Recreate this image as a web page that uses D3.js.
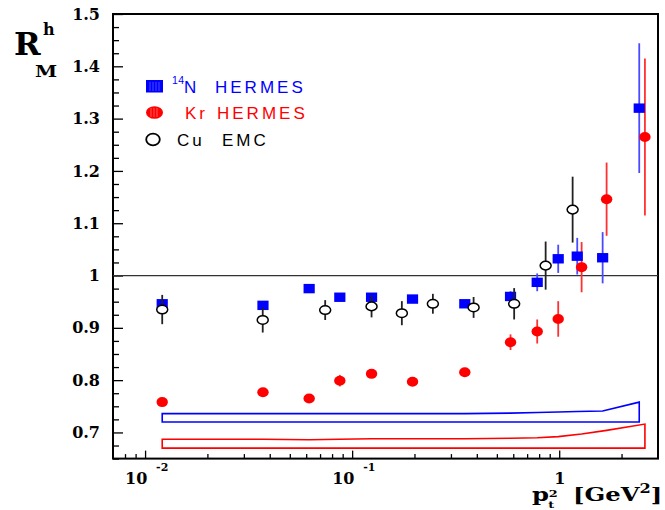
<!DOCTYPE html>
<html>
<head>
<meta charset="utf-8">
<script src="https://cdn.jsdelivr.net/npm/d3@7"></script>
<style>
  html, body { margin: 0; padding: 0; background: #fff; }
  svg { display: block; }
</style>
</head>
<body>
<svg id="chart" width="665" height="510"></svg>
<script>
// ---------------- data ----------------
const nX   = [0.0121, 0.0371, 0.0620, 0.0872, 0.1241, 0.1957, 0.350, 0.582, 0.783, 0.989, 1.222, 1.621, 2.435];
const nY   = [0.946, 0.943, 0.975, 0.9585, 0.9585, 0.955, 0.946, 0.960, 0.987, 1.032, 1.037, 1.034, 1.320];
const nErr = [0.004, 0.004, 0.004, 0.005, 0.005, 0.005, 0.006, 0.010, 0.017, 0.027, 0.035, 0.049, 0.124];

const krX   = [0.0121, 0.0371, 0.0620, 0.0872, 0.1241, 0.1957, 0.350, 0.582, 0.783, 0.989, 1.283, 1.694, 2.594];
const krY   = [0.758, 0.777, 0.765, 0.799, 0.812, 0.797, 0.815, 0.8725, 0.893, 0.917, 1.016, 1.146, 1.265];
const krErr = [0.004, 0.004, 0.004, 0.011, 0.005, 0.005, 0.006, 0.015, 0.023, 0.034, 0.048, 0.070, 0.150];

const cuX   = [0.0121, 0.0370, 0.0741, 0.1241, 0.1738, 0.2454, 0.386, 0.606, 0.860, 1.161];
const cuY   = [0.935, 0.915, 0.934, 0.941, 0.928, 0.946, 0.939, 0.946, 1.019, 1.126];
const cuErr = [0.028, 0.024, 0.019, 0.021, 0.023, 0.019, 0.020, 0.030, 0.046, 0.063];

// systematic bands
const bandNUpper  = [0.736, 0.736, 0.736, 0.736, 0.736, 0.736, 0.736, 0.737, 0.738, 0.739, 0.740, 0.741, 0.758];
const bandNLower  = [0.720, 0.720, 0.720, 0.720, 0.720, 0.720, 0.720, 0.720, 0.720, 0.720, 0.720, 0.720, 0.720];
const bandKrUpper = [0.687, 0.687, 0.686, 0.687, 0.688, 0.688, 0.688, 0.689, 0.690, 0.692, 0.697, 0.704, 0.716];
const bandKrLower = [0.670, 0.670, 0.670, 0.670, 0.670, 0.670, 0.670, 0.670, 0.670, 0.670, 0.670, 0.670, 0.670];

const yMajorTicks = [0.7, 0.8, 0.9, 1.0, 1.1, 1.2, 1.3, 1.4, 1.5];
const yTickLabels = ["0.7", "0.8", "0.9", "1", "1.1", "1.2", "1.3", "1.4", "1.5"];
const xMajorTicks = [0.01, 0.1, 1];
const xTickBase   = ["10", "10", "1"];
const xTickExp    = ["-2", "-1", ""];
const xMinorTicks = [0.008, 0.009, 0.02, 0.03, 0.04, 0.05, 0.06, 0.07, 0.08, 0.09,
                     0.2, 0.3, 0.4, 0.5, 0.6, 0.7, 0.8, 0.9, 2];
const legendLabels = ["N HERMES", "Kr HERMES", "Cu EMC"];

// ---------------- layout ----------------
const L = 113, R = 658, T = 14, B = 458.6;
const svg = d3.select("#chart");
const x = d3.scaleLog().domain([0.007, 3]).range([L, R]);
const y = d3.scaleLinear().domain([0.65, 1.5]).range([B, T]);

const BLUE = "#0000ff", BLUE_E = "#4a4aff", RED = "#ff0000", RED_E = "#ff3030";
const serif = "'DejaVu Serif', serif";
const sans = "'Liberation Sans', Arial, sans-serif";

// ---------------- axes ----------------
const yMinor = d3.range(0.65, 1.5001, 0.025).filter(v => !yMajorTicks.some(m => Math.abs(m - v) < 1e-6));

const gYMinor = svg.append("g").attr("transform", `translate(${L},0)`)
  .call(d3.axisLeft(y).tickValues(yMinor).tickSizeInner(-6).tickSizeOuter(0).tickFormat(""));
const gY = svg.append("g").attr("transform", `translate(${L},0)`)
  .call(d3.axisLeft(y).tickValues(yMajorTicks).tickSizeInner(-10).tickSizeOuter(0).tickPadding(13)
    .tickFormat((d, i) => yTickLabels[i]));
gY.selectAll("text").attr("font-family", serif).attr("font-weight", "bold").attr("font-size", 16).attr("fill", "#000");

const gXMinor = svg.append("g").attr("transform", `translate(0,${B})`)
  .call(d3.axisBottom(x).tickValues(xMinorTicks).tickSizeInner(-4.5).tickSizeOuter(0).tickFormat(""));
const gX = svg.append("g").attr("transform", `translate(0,${B})`)
  .call(d3.axisBottom(x).tickValues(xMajorTicks).tickSizeInner(-8).tickSizeOuter(0).tickFormat(""));

[gYMinor, gY, gXMinor, gX].forEach(g => {
  g.select(".domain").remove();
  g.selectAll(".tick line").attr("stroke", "#000").attr("stroke-width", 1.3);
});

// x tick labels with exponents
xMajorTicks.forEach((v, i) => {
  const px = x(v);
  if (xTickExp[i]) {
    svg.append("text").attr("x", px - 20).attr("y", 483.5)
      .attr("font-family", serif).attr("font-weight", "bold").attr("font-size", 16).text(xTickBase[i]);
    svg.append("text").attr("x", px + 11).attr("y", 471)
      .attr("font-family", serif).attr("font-weight", "bold").attr("font-size", 11).text(xTickExp[i]);
  } else {
    svg.append("text").attr("x", px + 0.5).attr("y", 483.5).attr("text-anchor", "middle")
      .attr("font-family", serif).attr("font-weight", "bold").attr("font-size", 16).text(xTickBase[i]);
  }
});

// frame
svg.append("rect").attr("x", L).attr("y", T).attr("width", R - L).attr("height", B - T)
  .attr("fill", "none").attr("stroke", "#000").attr("stroke-width", 2);

// y = 1 reference line
svg.append("line").attr("x1", L).attr("x2", R).attr("y1", y(1)).attr("y2", y(1))
  .attr("stroke", "#333").attr("stroke-width", 1.2);

// ---------------- bands ----------------
function bandPath(xs, up, lo) {
  const pts = xs.map((v, i) => [x(v), y(up[i])]).concat(xs.map((v, i) => [x(v), y(lo[i])]).reverse());
  return d3.line()(pts) + "Z";
}
svg.append("path").attr("d", bandPath(nX, bandNUpper, bandNLower))
  .attr("fill", "none").attr("stroke", BLUE).attr("stroke-width", 1.6);
svg.append("path").attr("d", bandPath(krX, bandKrUpper, bandKrLower))
  .attr("fill", "none").attr("stroke", RED).attr("stroke-width", 1.6);

// ---------------- error bars ----------------
function errBars(xs, ys, es, color) {
  svg.append("g").selectAll("line").data(xs).join("line")
    .attr("x1", d => x(d)).attr("x2", d => x(d))
    .attr("y1", (d, i) => y(ys[i] + es[i])).attr("y2", (d, i) => y(ys[i] - es[i]))
    .attr("stroke", color).attr("stroke-width", 1.8);
}
errBars(nX, nY, nErr, BLUE_E);
errBars(krX, krY, krErr, RED_E);

// markers: N squares
svg.append("g").selectAll("rect").data(nX).join("rect")
  .attr("x", d => x(d) - 5.6).attr("y", (d, i) => y(nY[i]) - 4.7)
  .attr("width", 11.2).attr("height", 9.4).attr("fill", BLUE);
// Kr circles
svg.append("g").selectAll("ellipse").data(krX).join("ellipse")
  .attr("cx", d => x(d)).attr("cy", (d, i) => y(krY[i]))
  .attr("rx", 5.7).attr("ry", 5).attr("fill", RED);
// Cu error bars + open circles
errBars(cuX, cuY, cuErr, "#222");
svg.append("g").selectAll("ellipse").data(cuX).join("ellipse")
  .attr("cx", d => x(d)).attr("cy", (d, i) => y(cuY[i]))
  .attr("rx", 5.5).attr("ry", 4.3).attr("fill", "#fff").attr("stroke", "#000").attr("stroke-width", 1.5);

// ---------------- legend ----------------
const lg = svg.append("g");
lg.append("rect").attr("x", 146).attr("y", 80).attr("width", 17).attr("height", 12.5).attr("fill", BLUE);
[150, 153, 156, 159].forEach(px => lg.append("line").attr("x1", px).attr("x2", px).attr("y1", 82).attr("y2", 91)
  .attr("stroke", "#5a5aff").attr("stroke-width", 0.8));
lg.append("ellipse").attr("cx", 154.5).attr("cy", 112.5).attr("rx", 8.5).attr("ry", 6.3).attr("fill", RED);
[151, 154, 157].forEach(px => lg.append("line").attr("x1", px).attr("x2", px).attr("y1", 108).attr("y2", 117)
  .attr("stroke", "#ff7070").attr("stroke-width", 0.8));
lg.append("ellipse").attr("cx", 153).attr("cy", 139.5).attr("rx", 6.8).attr("ry", 5.8)
  .attr("fill", "#fff").attr("stroke", "#000").attr("stroke-width", 1.8);

function ltext(xp, yp, str, color, size, ls) {
  return lg.append("text").attr("x", xp).attr("y", yp).attr("fill", color)
    .attr("font-family", sans).attr("font-size", size).attr("letter-spacing", ls).text(str);
}
ltext(172, 84, "14", BLUE, 10.5, 0.5);
ltext(184, 93, legendLabels[0].split(" ")[0], BLUE, 17, 3);
ltext(215, 93, legendLabels[0].split(" ")[1], BLUE, 17, 3);
ltext(185, 119, legendLabels[1].split(" ")[0], RED, 17, 3);
ltext(217, 119, legendLabels[1].split(" ")[1], RED, 17, 3);
ltext(177, 145.5, legendLabels[2].split(" ")[0], "#000", 17, 3);
ltext(222, 145.5, legendLabels[2].split(" ")[1], "#000", 17, 3);

// ---------------- axis titles ----------------
svg.append("text").attr("x", 14).attr("y", 55).attr("font-family", serif).attr("font-weight", "bold")
  .attr("font-size", 32).text("R");
svg.append("text").attr("x", 43).attr("y", 35).attr("font-family", serif).attr("font-weight", "bold")
  .attr("font-size", 16).text("h");
svg.append("text").attr("transform", "translate(35,77) scale(1.25,1)").attr("font-family", serif)
  .attr("font-weight", "bold").attr("font-size", 16).text("M");

const xtg = svg.append("g").attr("transform", "translate(532,501) scale(1.35,1)")
  .attr("font-family", serif).attr("font-weight", "bold");
const pt = xtg.append("text").attr("x", 0).attr("y", 0).attr("font-size", 18);
pt.append("tspan").text("p");
pt.append("tspan").attr("x", 12).attr("y", 7).attr("font-size", 9.5).text("t");
pt.append("tspan").attr("x", 12.5).attr("y", -4.5).attr("font-size", 9.5).text("2");
const xt = xtg.append("text").attr("x", 30.4).attr("y", 0).attr("font-size", 18);
xt.append("tspan").text("[GeV");
xt.append("tspan").attr("font-size", 12).attr("dy", -8).text("2");
xt.append("tspan").attr("dy", 8).text("]");
</script>
</body>
</html>
